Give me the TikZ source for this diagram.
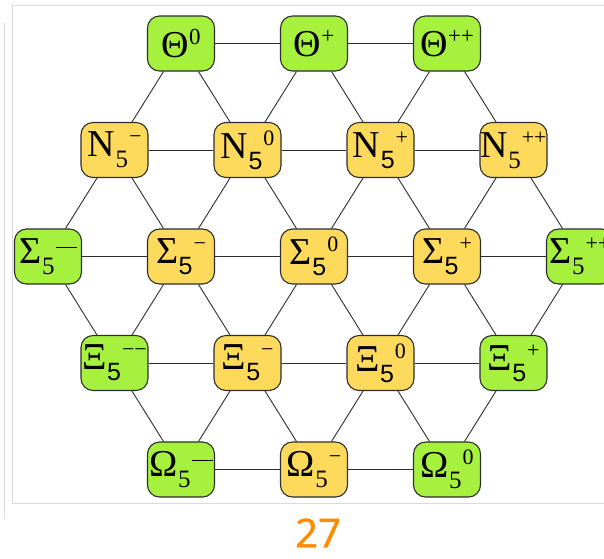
\documentclass[tikz,border=0pt]{standalone}
\usepackage{fontspec}
\setmainfont{Liberation Serif}
\newfontfamily\sansf{Liberation Sans}
\newfontfamily\pagenumfont[FakeBold=1.2]{Open Sans}
\definecolor{exgreen}{RGB}{166,240,62}
\definecolor{exyellow}{RGB}{253,217,92}
\definecolor{edgegray}{RGB}{45,45,45}
\definecolor{framegray}{RGB}{218,218,218}
\definecolor{pageorange}{RGB}{255,140,0}
% letter with subscript 5 (serif or sans) and a trailing superscript sign
\newcommand\pentaS[3]{{\fontsize{38}{38}\selectfont #1}\kern0.5pt\raisebox{-11pt}{\fontsize{25}{25}\selectfont #2}\kern1pt\raisebox{13pt}{\fontsize{22}{22}\selectfont #3}}
\newcommand\thetaS[1]{{\fontsize{38}{38}\selectfont \char"0398}\kern0.5pt\raisebox{13pt}{\fontsize{23}{23}\selectfont #1}}
\begin{document}
\begin{tikzpicture}[x=1pt,y=-1pt,
  hadron/.style={draw=edgegray, line width=1.1pt, rounded corners=12pt,
    minimum width=67pt, minimum height=55pt, inner sep=0pt, text=black},
  exotic/.style={hadron, fill=exgreen},
  ordinary/.style={hadron, fill=exyellow},
  link/.style={draw=edgegray, line width=0.9pt}]
\useasboundingbox (0,0) rectangle (604,558);

% page frame
\draw[framegray, line width=1pt] (630,5) -- (12,5) -- (12,503) -- (630,503);
\draw[framegray, line width=1pt] (4,23) -- (4,519);

% row 1: Theta
\node[exotic] (t0) at (181,43.5) {\thetaS{0}};
\node[exotic] (t1) at (314,43.5) {\thetaS{+}};
\node[exotic] (t2) at (447,43.5) {\thetaS{++}};
% row 2: N
\node[ordinary] (n0) at (114.5,150) {\pentaS{N}{5}{\char"2212}};
\node[ordinary] (n1) at (247.5,150) {\pentaS{N}{\sansf 5}{0}};
\node[ordinary] (n2) at (380.5,150) {\pentaS{N}{\sansf 5}{+}};
\node[ordinary] (n3) at (513.5,150) {\pentaS{N}{5}{++}};
% row 3: Sigma
\node[exotic] (s0) at (48,256.5) {\pentaS{\char"03A3}{5}{\rule[2pt]{21pt}{1.2pt}}};
\node[ordinary] (s1) at (181,256.5) {\pentaS{\char"03A3}{\sansf 5}{\char"2212}};
\node[ordinary] (s2) at (314,256.5) {\pentaS{\char"03A3}{\sansf 5}{0}};
\node[ordinary] (s3) at (447,256.5) {\pentaS{\char"03A3}{\sansf 5}{+}};
\node[exotic] (s4) at (580,256.5) {\pentaS{\char"03A3}{5}{++}};
% row 4: Xi
\node[exotic] (x0) at (114.5,363) {\pentaS{\char"039E}{\sansf 5}{\char"2212\char"2212}};
\node[ordinary] (x1) at (247.5,363) {\pentaS{\char"039E}{\sansf 5}{\char"2212}};
\node[ordinary] (x2) at (380.5,363) {\pentaS{\char"039E}{\sansf 5}{0}};
\node[exotic] (x3) at (513.5,363) {\pentaS{\char"039E}{\sansf 5}{+}};
% row 5: Omega
\node[exotic] (o0) at (181,469.5) {\pentaS{\char"03A9}{5}{\rule[2pt]{21pt}{1.2pt}}};
\node[ordinary] (o1) at (314,469.5) {\pentaS{\char"03A9}{5}{\char"2212}};
\node[exotic] (o2) at (447,469.5) {\pentaS{\char"03A9}{5}{0}};

% horizontal links
\foreach \a/\b in {t0/t1,t1/t2,n0/n1,n1/n2,n2/n3,s0/s1,s1/s2,s2/s3,s3/s4,
                   x0/x1,x1/x2,x2/x3,o0/o1,o1/o2}
  \draw[link] (\a) -- (\b);
% diagonal links
\foreach \a/\b in {t0/n0,t0/n1,t1/n1,t1/n2,t2/n2,t2/n3,
                   n0/s0,n0/s1,n1/s1,n1/s2,n2/s2,n2/s3,n3/s3,n3/s4,
                   s0/x0,s1/x0,s1/x1,s2/x1,s2/x2,s3/x2,s3/x3,s4/x3,
                   x0/o0,x1/o0,x1/o1,x2/o1,x2/o2,x3/o2}
  \draw[link] (\a) -- (\b);

% page number
\node[text=pageorange, inner sep=0pt, font=\pagenumfont\fontsize{40}{40}\selectfont] (pg) at (318,533) {27};
\end{tikzpicture}
\end{document}
